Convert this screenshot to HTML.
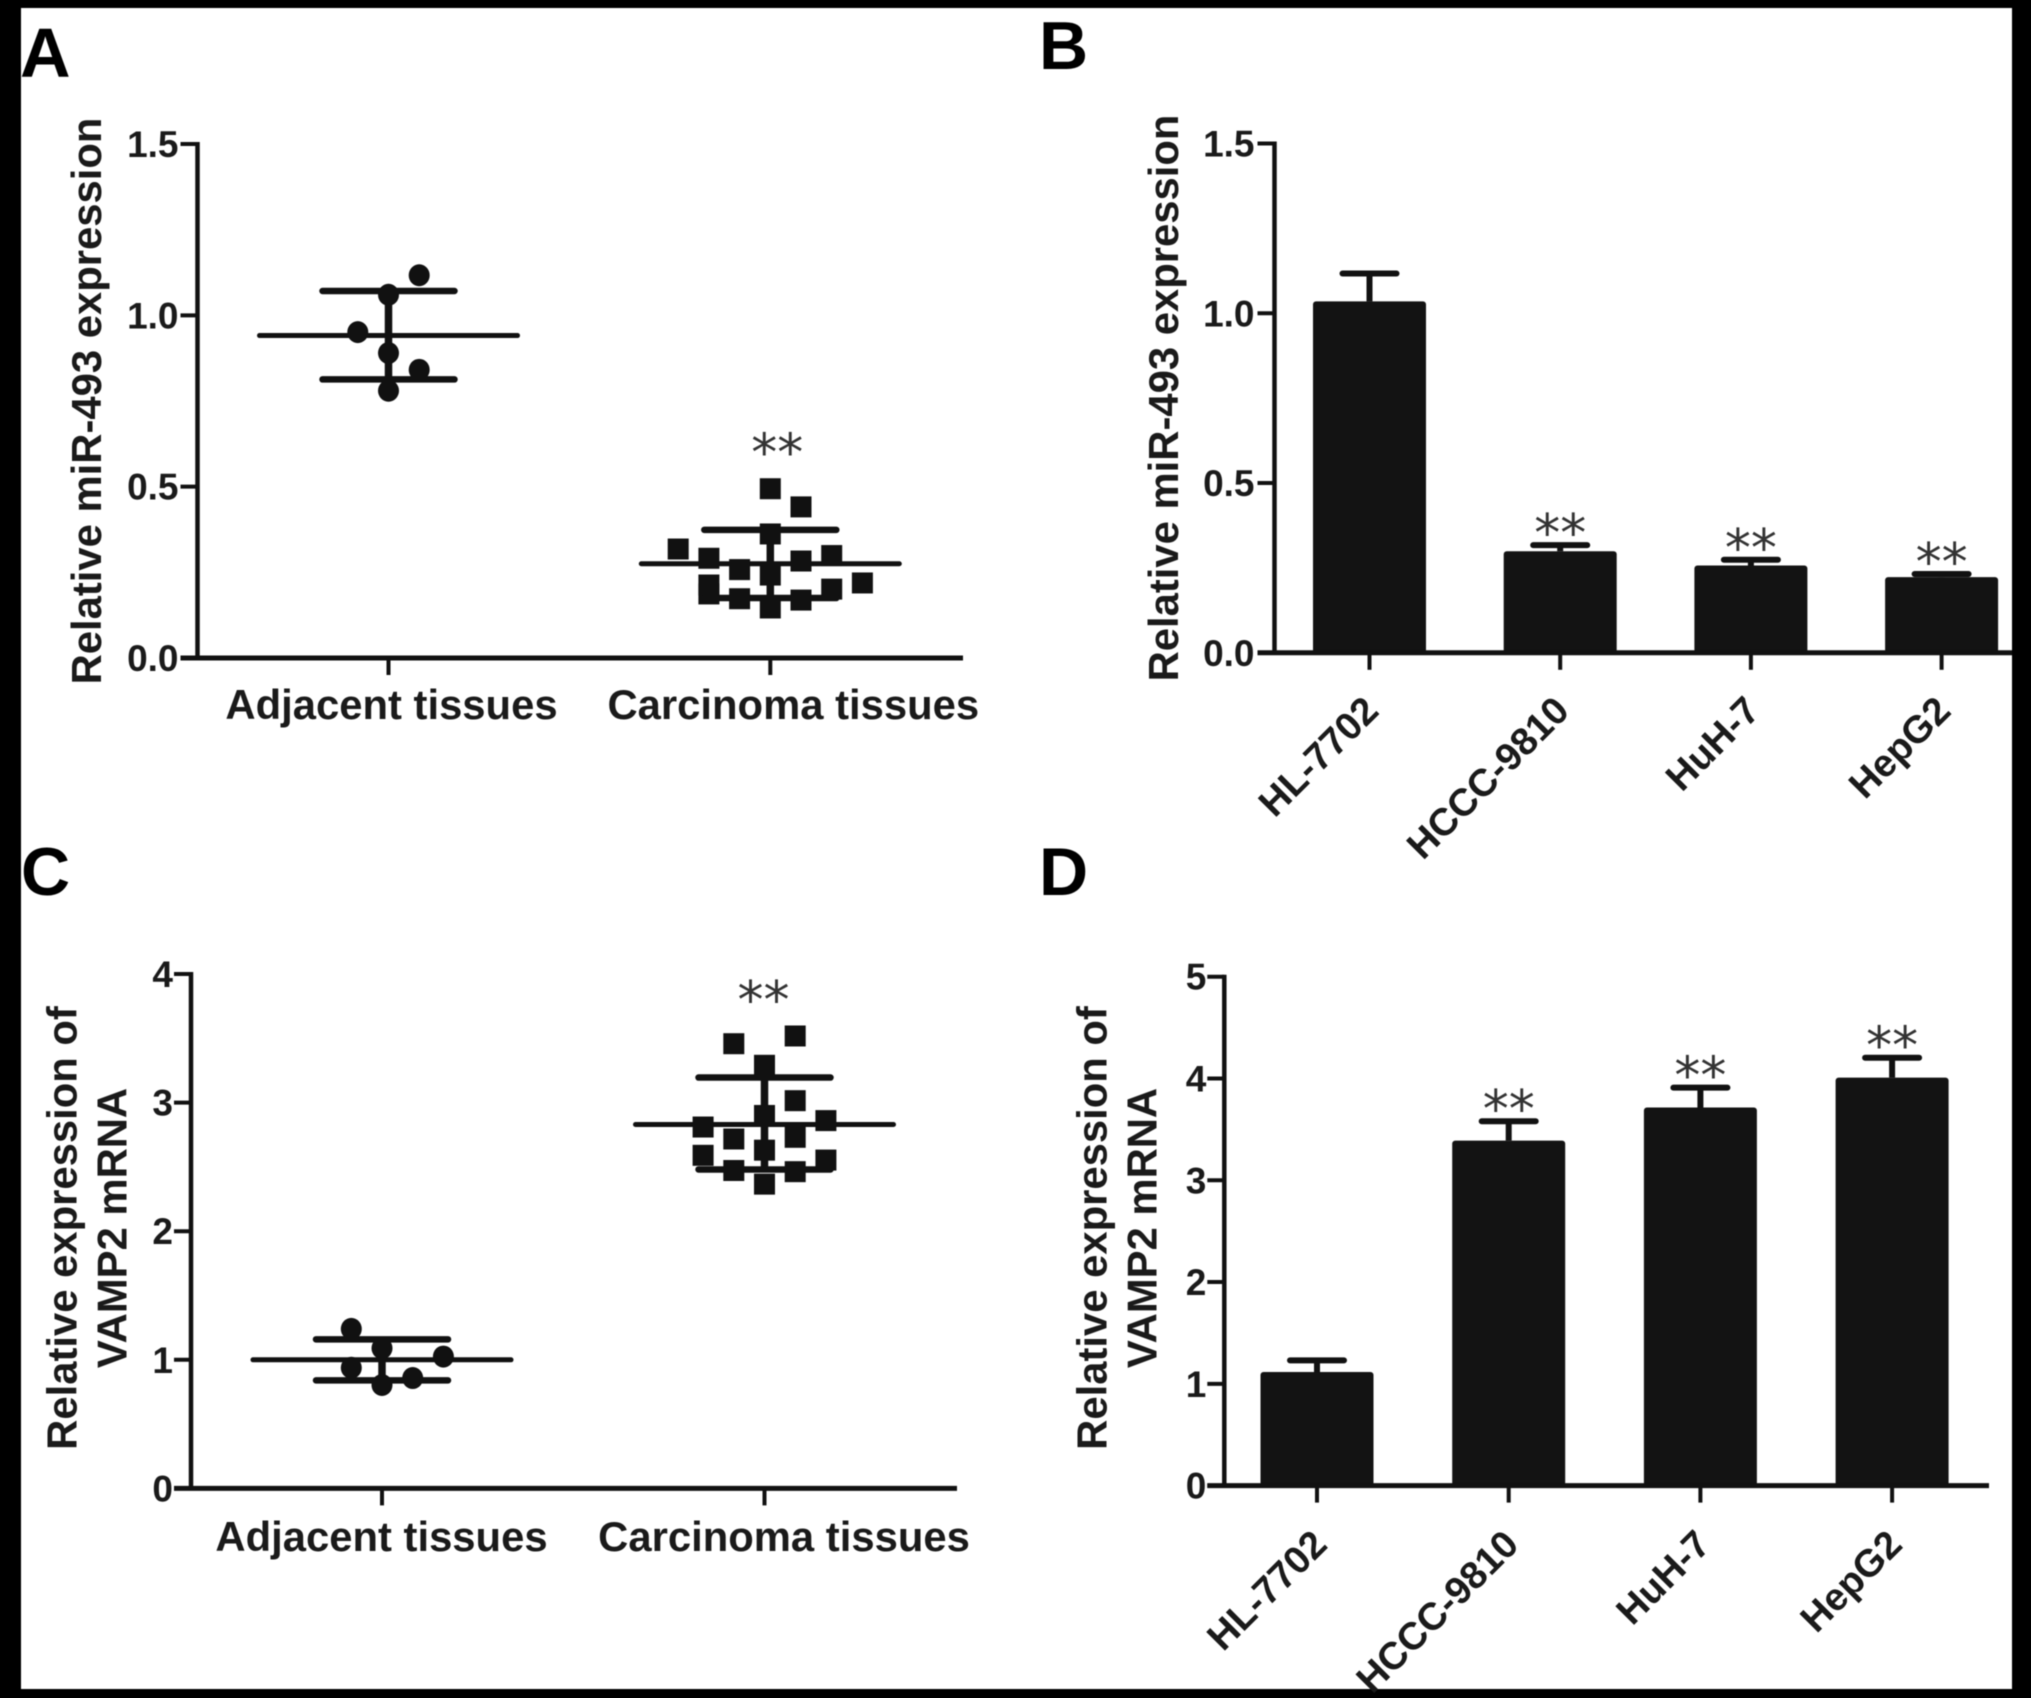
<!DOCTYPE html>
<html>
<head>
<meta charset="utf-8">
<title>miR-493 and VAMP2 expression</title>
<style>
html,body{margin:0;padding:0;background:#000;width:2031px;height:1698px;overflow:hidden}
svg{display:block;filter:blur(0.6px)}
text{font-family:"Liberation Sans",Arial,sans-serif;fill:#1a1a1a}
.bold{font-weight:700}
.panel-letter{fill:#000}
.star{font-family:"DejaVu Sans",sans-serif;fill:#333;font-size:52px}
</style>
</head>
<body>
<svg id="figure" xmlns="http://www.w3.org/2000/svg" width="2031" height="1698" viewBox="0 0 2031 1698">
  <rect x="21" y="8" width="1991" height="1681" fill="#fff"/>
  <text class="bold panel-letter" x="20" y="77" font-size="70">A</text>
  <text class="bold panel-letter" x="1039" y="69" font-size="68">B</text>
  <text class="bold panel-letter" x="21" y="895" font-size="68">C</text>
  <text class="bold panel-letter" x="1039" y="895" font-size="68">D</text>
</svg>
<script>
// Shared categories
const tissueCategories = ['Adjacent tissues', 'Carcinoma tissues'];
const cellCategories = ['HL-7702', 'HCCC-9810', 'HuH-7', 'HepG2'];

// Panel A: relative miR-493 in tissues
const aTicks = ['0.0', '0.5', '1.0', '1.5'];
const aAdjacentValues = [1.117, 1.06, 0.951, 0.89, 0.841, 0.78];
const aAdjacentSlots = [1, 0, -1, 0, 1, 0];
const aCarcinomaValues = [0.494, 0.441, 0.362, 0.318, 0.291, 0.299, 0.283, 0.258, 0.242, 0.213, 0.219, 0.201, 0.187, 0.173, 0.169, 0.146];
const aCarcinomaSlots = [0, 1, 0, -3, -2, 2, 1, -1, 0, -2, 3, 2, -2, -1, 1, 0];
const aMeans = [0.941, 0.275];
const aUppers = [1.071, 0.374];
const aLowers = [0.813, 0.175];

// Panel B: relative miR-493 in cell lines
const bTicks = ['0.0', '0.5', '1.0', '1.5'];
const bValues = [1.035, 0.299, 0.257, 0.223];
const bErrorTops = [1.117, 0.317, 0.274, 0.232];
const bSignificant = [false, true, true, true];

// Panel C: VAMP2 mRNA in tissues
const cTicks = ['0', '1', '2', '3', '4'];
const cAdjacentValues = [1.24, 1.09, 1.025, 0.938, 0.858, 0.804];
const cAdjacentSlots = [-1, 0, 2, -1, 1, 0];
const cCarcinomaValues = [3.518, 3.458, 3.29, 3.015, 2.9, 2.86, 2.81, 2.73, 2.717, 2.63, 2.59, 2.553, 2.472, 2.463, 2.366];
const cCarcinomaSlots = [1, -1, 0, 1, 0, 2, -2, 1, -1, 0, -2, 2, -1, 1, 0];
const cMeans = [1.0, 2.83];
const cUppers = [1.159, 3.195];
const cLowers = [0.84, 2.48];

// Panel D: VAMP2 mRNA in cell lines
const dTicks = ['0', '1', '2', '3', '4', '5'];
const dValues = [1.116, 3.39, 3.715, 4.009];
const dErrorTops = [1.23, 3.58, 3.91, 4.204];
const dSignificant = [false, true, true, true];

const NS = 'http://www.w3.org/2000/svg';
const figure = document.getElementById('figure');
const INK = '#111';

function make(parent, tag, attrs, content) {
  const el = document.createElementNS(NS, tag);
  for (const key in attrs) el.setAttribute(key, attrs[key]);
  if (content !== undefined) el.textContent = content;
  parent.appendChild(el);
  return el;
}

function drawLine(parent, name, x1, y1, x2, y2, width, cap) {
  const el = make(parent, 'line', {x1: x1, y1: y1, x2: x2, y2: y2, stroke: INK, 'stroke-width': width, 'stroke-linecap': cap || 'butt'});
  
  
  return el;
}

function makeYScale(p) {
  return function (v) { return p.y0 - (v / p.yMax) * (p.y0 - p.yTop); };
}

function drawAxes(g, p, ticks, tickPositions) {
  const y = makeYScale(p);
  drawLine(g, 'y-axis', p.axisX, p.yTop - 2, p.axisX, p.y0 + 2, 4.5);
  drawLine(g, 'x-axis', p.axisX - 17, p.y0, p.xEnd, p.y0, 5);
  ticks.forEach(function (label) {
    const v = parseFloat(label);
    drawLine(g, 'y-tick', p.axisX - 17, y(v), p.axisX, y(v), 4);
    const t = make(g, 'text', {x: p.axisX - p.tickGap, y: y(v) + 13, 'text-anchor': 'end', 'font-size': 37, class: 'bold'}, label);
    
    
  });
  tickPositions.forEach(function (x) {
    drawLine(g, 'x-tick', x, p.y0, x, p.y0 + 17, 4);
  });
  p.titleLines.forEach(function (line, i) {
    const cx = p.titleX + i * p.titleStep;
    const t = make(g, 'text', {x: 0, y: 0, 'text-anchor': 'middle', 'font-size': 41.8, class: 'bold', transform: 'translate(' + (cx + 15) + ' ' + p.titleY + ') rotate(-90)'}, line);
    
    
  });
}

function drawStars(g, x, centerY) {
  const t = make(g, 'text', {x: x, y: centerY + 26, 'text-anchor': 'middle', class: 'star'}, '**');
  
  
}

function drawGroup(g, p, x, values, slots, mean, upper, lower, shape, groupName) {
  const y = makeYScale(p);
  const group = make(g, 'g', {});
  
  
  values.forEach(function (v, i) {
    const px = x + slots[i] * p.slotStep;
    if (shape === 'circle') {
      const c = make(group, 'ellipse', {cx: px, cy: y(v), rx: 10.5, ry: 11, fill: INK});
      
      
    } else {
      const s = make(group, 'rect', {x: px - 10.5, y: y(v) - 10.5, width: 21, height: 21, fill: INK});
      
      
    }
  });
  drawLine(group, 'mean-line', x - 129, y(mean), x + 129, y(mean), 5, 'round');
  drawLine(group, 'sd-upper-cap', x - 66, y(upper), x + 66, y(upper), 6.5, 'round');
  drawLine(group, 'sd-lower-cap', x - 66, y(lower), x + 66, y(lower), 6.5, 'round');
  drawLine(group, 'sd-whisker', x, y(upper), x, y(lower), 7.5);
}

function drawScatterPanel(p, ticks, categories, groups) {
  const g = make(figure, 'g', {});
  
  
  const y = makeYScale(p);
  const xs = categories.map(function (_, i) { return p.firstX + i * p.catStep; });
  drawAxes(g, p, ticks, xs);
  categories.forEach(function (label, i) {
    const t = make(g, 'text', {x: xs[i] + p.labelShift + i * 20, y: p.labelY, 'text-anchor': 'middle', 'font-size': 41.8, class: 'bold'}, label);
    
    
  });
  groups.forEach(function (gr, i) {
    drawGroup(g, p, xs[i], gr.values, gr.slots, gr.mean, gr.upper, gr.lower, gr.shape, gr.name);
  });
  const top = Math.max.apply(null, groups[1].values);
  drawStars(g, xs[1] + p.starShift, y(top) - 44);
}

function drawBarPanel(p, ticks, categories, values, errorTops, significant) {
  const g = make(figure, 'g', {});
  
  
  const y = makeYScale(p);
  const xs = categories.map(function (_, i) { return p.firstX + i * p.catStep; });
  values.forEach(function (v, i) {
    drawLine(g, 'error-bar', xs[i], y(errorTops[i]), xs[i], y(v), 6);
    drawLine(g, 'error-cap', xs[i] - 27, y(errorTops[i]), xs[i] + 27, y(errorTops[i]), 6, 'round');
    const b = make(g, 'rect', {x: xs[i] - 56.5, y: y(v), width: 113, height: p.y0 - y(v), rx: 3, fill: '#131313'});
    
    
    if (significant[i]) drawStars(g, xs[i], y(errorTops[i]) - 20);
  });
  drawAxes(g, p, ticks, xs);
  categories.forEach(function (label, i) {
    const ax = xs[i] + p.labelDx;
    const ay = p.y0 + p.labelDy;
    const t = make(g, 'text', {x: 0, y: 0, 'text-anchor': 'end', 'font-size': 38.5, class: 'bold', transform: 'translate(' + ax + ' ' + ay + ') rotate(-45)'}, label);
    
    
  });
}

drawScatterPanel(
  {name: 'panel-a-scatter', axisX: 197.5, yTop: 144, y0: 658, yMax: 1.5, xEnd: 963, tickGap: 19, firstX: 388.5, catStep: 381.8, slotStep: 30.7, labelShift: 3, labelY: 719, starShift: 7, titleLines: ['Relative miR-493 expression'], titleX: 86, titleStep: 0, titleY: 401},
  aTicks, tissueCategories,
  [
    {name: 'adjacent-tissues-group', values: aAdjacentValues, slots: aAdjacentSlots, mean: aMeans[0], upper: aUppers[0], lower: aLowers[0], shape: 'circle'},
    {name: 'carcinoma-tissues-group', values: aCarcinomaValues, slots: aCarcinomaSlots, mean: aMeans[1], upper: aUppers[1], lower: aLowers[1], shape: 'square'}
  ]
);

drawBarPanel(
  {name: 'panel-b-bars', axisX: 1274.5, yTop: 143.5, y0: 652.8, yMax: 1.5, xEnd: 2012, tickGap: 20, firstX: 1369.5, catStep: 190.7, labelDx: 11, labelDy: 60, titleLines: ['Relative miR-493 expression'], titleX: 1163, titleStep: 0, titleY: 398},
  bTicks, cellCategories, bValues, bErrorTops, bSignificant
);

drawScatterPanel(
  {name: 'panel-c-scatter', axisX: 191, yTop: 974, y0: 1488.4, yMax: 4, xEnd: 957, tickGap: 18, firstX: 382, catStep: 382.5, slotStep: 30.7, labelShift: -0.5, labelY: 1551, starShift: -1, titleLines: ['Relative expression of', 'VAMP2 mRNA'], titleX: 61.5, titleStep: 50, titleY: 1228},
  cTicks, tissueCategories,
  [
    {name: 'adjacent-tissues-group', values: cAdjacentValues, slots: cAdjacentSlots, mean: cMeans[0], upper: cUppers[0], lower: cLowers[0], shape: 'circle'},
    {name: 'carcinoma-tissues-group', values: cCarcinomaValues, slots: cCarcinomaSlots, mean: cMeans[1], upper: cUppers[1], lower: cLowers[1], shape: 'square'}
  ]
);

drawBarPanel(
  {name: 'panel-d-bars', axisX: 1224.3, yTop: 976.7, y0: 1485.6, yMax: 5, xEnd: 1989, tickGap: 18, firstX: 1317, catStep: 191.7, labelDx: 12, labelDy: 61, titleLines: ['Relative expression of', 'VAMP2 mRNA'], titleX: 1091.5, titleStep: 50, titleY: 1228},
  dTicks, cellCategories, dValues, dErrorTops, dSignificant
);
</script>
</body>
</html>
